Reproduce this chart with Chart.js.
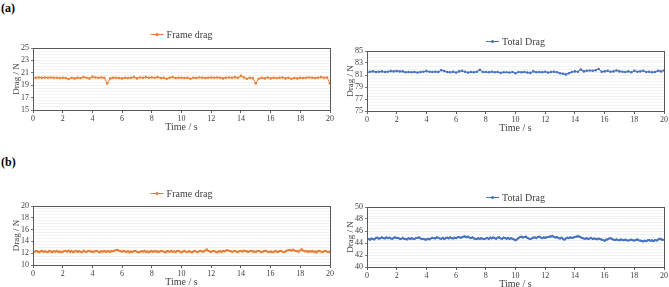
<!DOCTYPE html>
<html>
<head>
<meta charset="utf-8">
<script src="https://cdn.jsdelivr.net/npm/chart.js@4.4.1/dist/chart.umd.min.js"></script>
<style>
  body { margin: 0; background: #fff; width: 669px; height: 287px; position: relative; overflow: hidden; }
  .tag { position: absolute; left: 1px; font: bold 12px "Liberation Serif", serif; color: #000; }
  .box { position: absolute; }
</style>
</head>
<body>
<div class="tag" style="top:1px">(a)</div>
<div class="tag" style="top:155px">(b)</div>
<div class="box" style="left:0;top:28px;width:335px;height:104px"><canvas id="c1"></canvas></div>
<div class="box" style="left:334px;top:31px;width:335px;height:102px"><canvas id="c2"></canvas></div>
<div class="box" style="left:0;top:186px;width:335px;height:101px"><canvas id="c3"></canvas></div>
<div class="box" style="left:334px;top:187px;width:335px;height:102px"><canvas id="c4"></canvas></div>
<script>
// (a) sampled every 0.2 s
var timeA = [];
for (var i = 0; i <= 100; i++) timeA.push(+(i * 0.2).toFixed(1));
var frameDragA = [
  20.2,20.2,20.25,20.2,20.25,20.2,20.25,20.2,20.2,20.15,
  20.2,20.15,20.0,20.2,20.1,20.2,20.15,20.3,20.2,20.1,
  20.35,20.25,20.2,20.25,20.2,19.3,20.1,20.2,20.2,20.15,
  20.1,20.2,20.15,20.2,20.3,20.1,20.25,20.2,20.3,20.2,
  20.25,20.2,20.3,20.15,20.2,20.05,20.2,20.3,20.15,20.2,
  20.2,20.15,20.2,20.05,20.2,20.15,20.25,20.2,20.15,20.2,
  20.25,20.2,20.25,20.2,20.1,20.2,20.25,20.2,20.3,20.2,
  20.5,20.25,20.05,20.2,20.15,19.3,20.05,20.2,20.1,20.25,
  20.1,20.2,20.15,20.2,20.25,20.1,20.2,20.05,20.15,20.1,
  20.2,20.15,20.2,20.25,20.2,20.15,20.2,20.3,20.2,20.25,
  19.3
];
var totalDragA = [
  81.4,81.55,81.6,81.5,81.55,81.6,81.5,81.55,81.65,81.6,
  81.65,81.6,81.6,81.45,81.5,81.45,81.5,81.4,81.5,81.55,
  81.65,81.55,81.5,81.55,81.5,81.8,81.65,81.5,81.45,81.55,
  81.4,81.6,81.7,81.55,81.4,81.5,81.45,81.55,81.85,81.5,
  81.5,81.45,81.55,81.45,81.5,81.35,81.45,81.45,81.4,81.5,
  81.3,81.5,81.45,81.5,81.4,81.35,81.6,81.45,81.5,81.45,
  81.55,81.4,81.5,81.55,81.45,81.3,81.2,81.1,81.3,81.5,
  81.6,81.55,81.9,81.6,81.7,81.75,81.7,81.8,82.0,81.55,
  81.6,81.7,81.55,81.6,81.75,81.6,81.55,81.5,81.6,81.45,
  81.7,81.55,81.6,81.7,81.5,81.55,81.45,81.5,81.7,81.6,
  81.75
];
// (b) sampled every 0.1 s
var timeB = [];
for (var j = 0; j <= 200; j++) timeB.push(+(j * 0.1).toFixed(1));
var frameDragB = [
  12.3,12.2,12.4,12.3,12.15,12.3,12.4,12.2,12.35,12.25,12.2,12.4,12.3,12.15,12.35,12.25,12.4,12.2,12.3,12.15,
  12.25,12.35,12.4,12.25,12.45,12.2,12.35,12.15,12.3,12.4,12.2,12.35,12.25,12.15,12.4,12.3,12.2,12.35,12.4,12.25,
  12.3,12.2,12.35,12.4,12.25,12.15,12.35,12.25,12.4,12.2,12.3,12.35,12.2,12.4,12.3,12.45,12.5,12.55,12.4,12.35,
  12.25,12.4,12.3,12.2,12.35,12.15,12.3,12.2,12.35,12.4,12.25,12.15,12.2,12.35,12.25,12.4,12.2,12.3,12.15,12.3,
  12.35,12.2,12.4,12.25,12.3,12.2,12.35,12.4,12.25,12.15,12.3,12.35,12.2,12.4,12.25,12.3,12.2,12.35,12.4,12.25,
  12.15,12.3,12.4,12.25,12.2,12.35,12.25,12.15,12.3,12.4,12.25,12.2,12.35,12.4,12.25,12.3,12.45,12.65,12.4,12.3,
  12.2,12.35,12.4,12.25,12.15,12.3,12.35,12.2,12.4,12.3,12.45,12.5,12.4,12.35,12.25,12.3,12.4,12.25,12.2,12.35,
  12.4,12.25,12.45,12.35,12.3,12.2,12.35,12.4,12.25,12.3,12.2,12.35,12.4,12.25,12.2,12.3,12.35,12.4,12.25,12.2,
  12.3,12.15,12.2,12.35,12.3,12.2,12.35,12.4,12.25,12.2,12.3,12.45,12.5,12.55,12.4,12.6,12.45,12.4,12.35,12.25,
  12.5,12.65,12.4,12.3,12.4,12.2,12.35,12.25,12.4,12.2,12.3,12.15,12.35,12.4,12.25,12.2,12.35,12.4,12.25,12.2,
  12.3
];
var totalDragB = [
  44.8,44.65,44.55,44.75,44.65,44.6,44.85,44.9,44.7,44.8,44.95,44.8,44.75,44.95,44.8,44.9,44.75,44.7,44.85,44.95,
  44.8,44.85,44.7,44.65,44.85,44.7,44.65,44.6,44.8,44.65,44.8,44.7,44.65,44.85,44.8,44.95,44.75,44.7,44.65,44.6,
  44.55,44.7,44.6,44.75,44.85,44.8,44.75,44.95,44.85,44.75,44.7,44.85,44.65,44.8,44.9,44.75,44.95,44.8,44.75,44.9,
  44.8,44.95,45.0,44.85,44.95,45.05,45.1,44.95,45.05,44.9,44.8,44.95,44.75,44.7,44.65,44.8,44.65,44.8,44.7,44.65,
  44.75,44.85,44.65,44.9,44.75,44.95,44.8,44.7,44.9,44.95,44.75,44.7,44.9,44.8,44.7,44.85,44.65,44.8,44.7,44.6,
  44.45,44.6,44.8,45.0,45.05,44.9,45.0,45.05,44.85,44.75,44.65,44.75,44.9,44.95,44.8,45.0,45.05,44.9,44.8,44.95,
  44.85,44.95,45.0,45.05,45.1,45.15,45.0,44.9,45.0,44.8,44.75,44.9,44.65,44.55,44.75,44.9,44.8,44.95,44.85,44.9,
  45.0,45.05,45.15,45.05,44.95,44.8,44.75,44.7,44.8,44.65,44.75,44.85,44.65,44.75,44.7,44.6,44.75,44.65,44.55,44.5,
  44.35,44.55,44.6,44.75,44.8,44.65,44.55,44.5,44.6,44.5,44.45,44.6,44.5,44.45,44.55,44.45,44.4,44.5,44.55,44.45,
  44.4,44.5,44.6,44.45,44.4,44.35,44.25,44.4,44.3,44.45,44.5,44.35,44.45,44.3,44.5,44.4,44.55,44.7,44.6,44.55,
  44.5
];

var orange = '#ED7D31';
var blue = '#4472C4';
var serif = '"Liberation Serif", "Times New Roman", serif';

// frame round the plot area and a small line+marker legend above it
var frameBox = {
  id: 'frameBox',
  afterDraw: function(chart, args, opts) {
    var a = chart.chartArea, c = chart.ctx;
    var ds = chart.data.datasets[0];
    c.save();
    c.strokeStyle = '#595959';
    c.lineWidth = 1;
    c.strokeRect(Math.round(a.left) + 0.5, Math.round(a.top) + 0.5, Math.round(a.right - a.left), Math.round(a.bottom - a.top));

    c.font = '10px ' + serif;
    var tw = c.measureText(ds.label).width;
    var total = 13 + 3 + tw;
    var x0 = (a.left + a.right) / 2 - total / 2;
    var y0 = a.top - opts.gap;
    c.strokeStyle = ds.borderColor;
    c.lineWidth = 1;
    c.beginPath();
    c.moveTo(x0, y0 + 0.5);
    c.lineTo(x0 + 13, y0 + 0.5);
    c.stroke();
    c.fillStyle = ds.borderColor;
    c.beginPath();
    c.arc(x0 + 6.5, y0 + 0.5, 1.6, 0, Math.PI * 2);
    c.fill();
    c.fillStyle = '#404040';
    c.textBaseline = 'middle';
    c.fillText(ds.label, x0 + 16, y0 + 1);
    c.restore();
  }
};

function makeChart(id, xs, ys, label, color, yMin, yMax, dense, gap) {
  var pts = xs.map(function(x, k) { return { x: x, y: ys[k] }; });
  return new Chart(document.getElementById(id), {
    type: 'line',
    data: {
      datasets: [{
        label: label,
        data: pts,
        borderColor: color,
        backgroundColor: color,
        borderWidth: dense ? 1.7 : 1,
        pointRadius: dense ? 1.1 : 1.3,
        pointBorderWidth: 0,
        tension: 0
      }]
    },
    options: {
      responsive: true,
      maintainAspectRatio: false,
      animation: false,
      layout: { padding: { left: 0, right: 5, top: 20, bottom: 0 } },
      plugins: {
        legend: { display: false },
        tooltip: { enabled: false },
        frameBox: { gap: gap }
      },
      scales: {
        x: {
          type: 'linear',
          min: 0, max: 20,
          afterFit: function(s) { s.height = 22; },
          ticks: { stepSize: 2, font: { family: serif, size: 8 }, color: '#404040', maxRotation: 0, padding: 1 },
          grid: { drawOnChartArea: false, tickLength: 3, tickColor: '#595959' },
          border: { display: false },
          title: { display: true, text: 'Time / s', font: { family: serif, size: 10, lineHeight: 1 }, color: '#404040', padding: 0 }
        },
        y: {
          min: yMin, max: yMax,
          afterFit: function(s) { s.width = 33; },
          ticks: {
            stepSize: 0.5, autoSkip: false,
            font: { family: serif, size: 8 }, color: '#404040', padding: 2,
            callback: function(v) { return ((v - yMin) % 2 === 0) ? v : ''; }
          },
          grid: {
            color: '#f0f0f0', lineWidth: 0.8, tickLength: 2,
            tickColor: function(c) { return ((c.tick.value - yMin) % 2 === 0) ? '#595959' : 'rgba(0,0,0,0)'; }
          },
          border: { display: false },
          title: { display: true, text: 'Drag / N', font: { family: serif, size: 9, lineHeight: 1 }, color: '#404040', padding: { top: 12, bottom: 0 } }
        }
      }
    },
    plugins: [frameBox]
  });
}

makeChart('c1', timeA, frameDragA, 'Frame drag', orange, 15, 25, false, 14);
makeChart('c2', timeA, totalDragA, 'Total Drag', blue, 75, 85, false, 10);
makeChart('c3', timeB, frameDragB, 'Frame drag', orange, 10, 20, true, 13);
makeChart('c4', timeB, totalDragB, 'Total Drag', blue, 40, 50, true, 10);
</script>
</body>
</html>
